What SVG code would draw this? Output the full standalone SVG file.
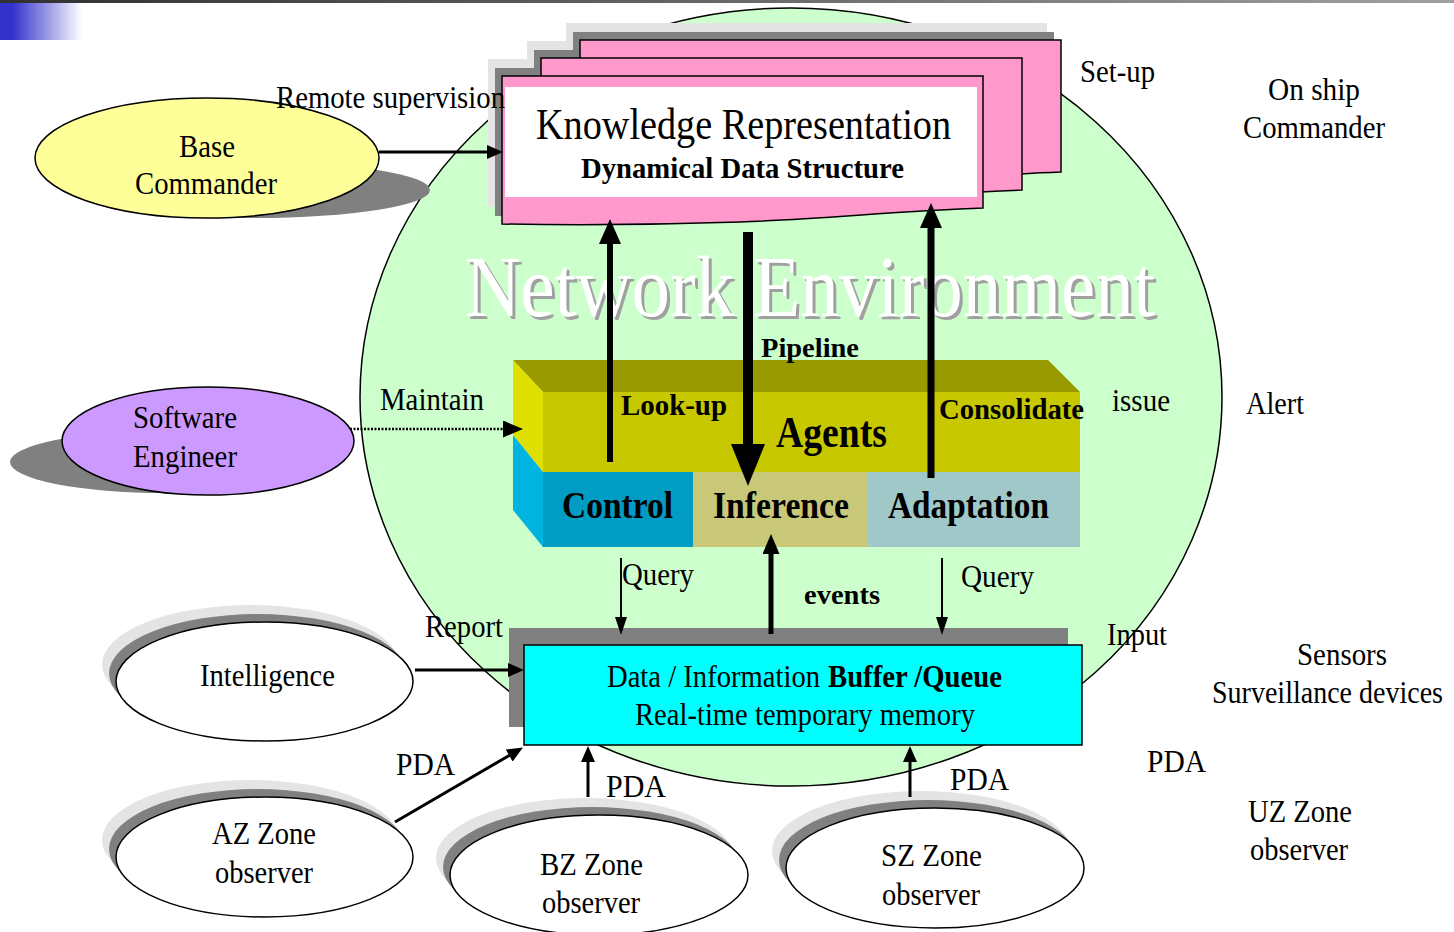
<svg xmlns="http://www.w3.org/2000/svg" width="1454" height="932" viewBox="0 0 1454 932">
<style>
.t{font-family:"Liberation Serif","Times New Roman",serif;font-size:32px;fill:#000}
.b{font-weight:bold}
.f28{font-size:28px}
.f30{font-size:30px}
.f37{font-size:38px}
.f42{font-size:44px}
.f84{font-size:86px}
.ell{stroke:#000;stroke-width:1.5}
.sl{fill:#e4e4e4}
.sd{fill:#808080}
.ln{stroke:#000;fill:none}
</style>
<defs>
<linearGradient id="topbar" x1="0" x2="1" y1="0" y2="0"><stop offset="0" stop-color="#303030"/><stop offset="1" stop-color="#a0a0a0"/></linearGradient>
<linearGradient id="blue" x1="0" x2="1" y1="0" y2="0"><stop offset="0" stop-color="#3333cc"/><stop offset="0.15" stop-color="#3333cc"/><stop offset="1" stop-color="#ffffff"/></linearGradient>
<path id="sheet" d="M502,76 H983 V208 C900,211 820,219 740,222 C650,225 560,225 502,224 Z"/>
<marker id="hS" markerUnits="userSpaceOnUse" viewBox="0 0 16 14" markerWidth="16" markerHeight="14" refX="1" refY="7" orient="auto"><path d="M0,0 L16,7 L0,14 Z" fill="#000"/></marker>
<marker id="hQ" markerUnits="userSpaceOnUse" viewBox="0 0 18 12" markerWidth="18" markerHeight="12" refX="1" refY="6" orient="auto"><path d="M0,0 L18,6 L0,12 Z" fill="#000"/></marker>
<marker id="hM" markerUnits="userSpaceOnUse" viewBox="0 0 20 17" markerWidth="20" markerHeight="17" refX="1" refY="8.5" orient="auto"><path d="M0,0 L20,8.5 L0,17 Z" fill="#000"/></marker>
<marker id="hL" markerUnits="userSpaceOnUse" viewBox="0 0 25 22" markerWidth="25" markerHeight="22" refX="1" refY="11" orient="auto"><path d="M0,0 L25,11 L0,22 Z" fill="#000"/></marker>
<marker id="hP" markerUnits="userSpaceOnUse" viewBox="0 0 42 34" markerWidth="42" markerHeight="34" refX="1" refY="17" orient="auto"><path d="M0,0 L42,17 L0,34 Z" fill="#000"/></marker>
</defs>

<!-- header -->
<rect x="0" y="0" width="1454" height="3" fill="url(#topbar)"/>
<rect x="0" y="3" width="82" height="37" fill="url(#blue)"/>

<!-- network environment circle -->
<g id="network">
<ellipse cx="791" cy="397" rx="431" ry="389" fill="#ccffcc" stroke="#000" stroke-width="1.5"/>
</g>

<!-- knowledge representation stack -->
<g id="knowledge">
<use href="#sheet" class="sl" transform="translate(64,-53)"/>
<use href="#sheet" class="sl" transform="translate(25,-35)"/>
<use href="#sheet" class="sl" transform="translate(-14,-17)"/>
<use href="#sheet" class="sd" transform="translate(71,-44)"/>
<use href="#sheet" class="sd" transform="translate(32,-26)"/>
<use href="#sheet" class="sd" transform="translate(-7,-8)"/>
<use href="#sheet" fill="#ff99cc" stroke="#000" stroke-width="1.5" transform="translate(78,-36)"/>
<use href="#sheet" fill="#ff99cc" stroke="#000" stroke-width="1.5" transform="translate(39,-18)"/>
<use href="#sheet" fill="#ff99cc" stroke="#000" stroke-width="1.5"/>
<rect x="505" y="87" width="472" height="110" fill="#fff"/>
<text class="t f42" x="536" y="139" textLength="415" lengthAdjust="spacingAndGlyphs">Knowledge Representation</text>
<text class="t b f30" x="581" y="178" textLength="323" lengthAdjust="spacingAndGlyphs">Dynamical Data Structure</text>
</g>

<!-- network environment title -->
<g id="title">
<text class="t f84" x="468" y="319" style="fill:#a0a0a0" textLength="690" lengthAdjust="spacingAndGlyphs">Network Environment</text>
<text class="t f84" x="465" y="316" style="fill:#fff" textLength="690" lengthAdjust="spacingAndGlyphs">Network Environment</text>
</g>

<!-- agents block -->
<g id="agents">
<polygon points="513,360 1048,360 1080,392 543,392" fill="#999900"/>
<polygon points="513,360 543,392 543,472 513,435" fill="#e0e000"/>
<polygon points="513,435 543,472 543,547 513,510" fill="#00b4e0"/>
<rect x="543" y="392" width="537" height="80" fill="#c8c800"/>
<rect x="543" y="472" width="150" height="75" fill="#009cc4"/>
<rect x="693" y="472" width="175" height="75" fill="#c8c878"/>
<rect x="868" y="472" width="212" height="75" fill="#a0c8c8"/>
<text class="t b f42" x="776" y="447" textLength="111" lengthAdjust="spacingAndGlyphs">Agents</text>
<text class="t b f37" x="562" y="518" textLength="111" lengthAdjust="spacingAndGlyphs">Control</text>
<text class="t b f37" x="713" y="518" textLength="136" lengthAdjust="spacingAndGlyphs">Inference</text>
<text class="t b f37" x="888" y="518" textLength="161" lengthAdjust="spacingAndGlyphs">Adaptation</text>
</g>

<!-- buffer -->
<g id="buffer">
<rect x="509" y="628" width="559" height="99" fill="#808080"/>
<rect x="524" y="645" width="558" height="100" fill="#00ffff" stroke="#000" stroke-width="1.5"/>
<text class="t" x="607" y="687" textLength="213" lengthAdjust="spacingAndGlyphs">Data / Information</text>
<text class="t b" x="828" y="687" textLength="174" lengthAdjust="spacingAndGlyphs">Buffer /Queue</text>
<text class="t" x="635" y="725" textLength="340" lengthAdjust="spacingAndGlyphs">Real-time temporary memory</text>
</g>

<!-- base commander -->
<g id="base-commander">
<ellipse cx="255" cy="190" rx="175" ry="28" fill="#808080"/>
<ellipse class="ell" cx="207" cy="158" rx="172" ry="60" fill="#ffff99"/>
<text class="t" x="179" y="157" textLength="56" lengthAdjust="spacingAndGlyphs">Base</text>
<text class="t" x="135" y="194" textLength="142" lengthAdjust="spacingAndGlyphs">Commander</text>
</g>

<!-- software engineer -->
<g id="software-engineer">
<ellipse cx="165" cy="462" rx="155" ry="31" fill="#808080"/>
<ellipse class="ell" cx="208" cy="441" rx="146" ry="54" fill="#cc99ff"/>
<text class="t" x="133" y="428" textLength="104" lengthAdjust="spacingAndGlyphs">Software</text>
<text class="t" x="133" y="467" textLength="104" lengthAdjust="spacingAndGlyphs">Engineer</text>
</g>

<!-- intelligence -->
<g id="intelligence">
<ellipse class="sl" cx="250.5" cy="664.5" rx="148.5" ry="59.5"/>
<ellipse class="sd" cx="257.5" cy="673.5" rx="148.5" ry="59.5"/>
<ellipse class="ell" cx="264.5" cy="681.5" rx="148.5" ry="59.5" fill="#fff"/>
<text class="t" x="200" y="686" textLength="135" lengthAdjust="spacingAndGlyphs">Intelligence</text>
</g>

<!-- AZ zone -->
<g id="az-zone">
<ellipse class="sl" cx="250.5" cy="840" rx="148.5" ry="60"/>
<ellipse class="sd" cx="257.5" cy="849" rx="148.5" ry="60"/>
<ellipse class="ell" cx="264.5" cy="857" rx="148.5" ry="60" fill="#fff"/>
<text class="t" x="212" y="844" textLength="104" lengthAdjust="spacingAndGlyphs">AZ Zone</text>
<text class="t" x="215" y="883" textLength="98" lengthAdjust="spacingAndGlyphs">observer</text>
</g>

<!-- BZ zone -->
<g id="bz-zone">
<ellipse class="sl" cx="585" cy="858" rx="149" ry="60"/>
<ellipse class="sd" cx="592" cy="867" rx="149" ry="60"/>
<ellipse class="ell" cx="599" cy="875" rx="149" ry="60" fill="#fff"/>
<text class="t" x="540" y="875" textLength="103" lengthAdjust="spacingAndGlyphs">BZ Zone</text>
<text class="t" x="542" y="913" textLength="98" lengthAdjust="spacingAndGlyphs">observer</text>
</g>

<!-- SZ zone -->
<g id="sz-zone">
<ellipse class="sl" cx="921" cy="851" rx="149" ry="60"/>
<ellipse class="sd" cx="928" cy="860" rx="149" ry="60"/>
<ellipse class="ell" cx="935" cy="868" rx="149" ry="60" fill="#fff"/>
<text class="t" x="881" y="866" textLength="101" lengthAdjust="spacingAndGlyphs">SZ Zone</text>
<text class="t" x="882" y="905" textLength="98" lengthAdjust="spacingAndGlyphs">observer</text>
</g>

<!-- free labels (right side) -->
<g id="on-ship-commander">
<text class="t" x="1268" y="100" textLength="92" lengthAdjust="spacingAndGlyphs">On ship</text>
<text class="t" x="1243" y="138" textLength="142" lengthAdjust="spacingAndGlyphs">Commander</text>
</g>
<g id="sensors">
<text class="t" x="1297" y="665" textLength="90" lengthAdjust="spacingAndGlyphs">Sensors</text>
<text class="t" x="1212" y="703" textLength="231" lengthAdjust="spacingAndGlyphs">Surveillance devices</text>
</g>
<g id="uz-zone">
<text class="t" x="1248" y="822" textLength="104" lengthAdjust="spacingAndGlyphs">UZ Zone</text>
<text class="t" x="1250" y="860" textLength="98" lengthAdjust="spacingAndGlyphs">observer</text>
</g>

<!-- connectors -->
<g id="connectors">
<line class="ln" x1="379" y1="152" x2="488" y2="152" stroke-width="3" marker-end="url(#hS)"/>
<line class="ln" x1="350" y1="429" x2="504" y2="429" stroke-width="2.5" stroke-dasharray="2 1.5" marker-end="url(#hM)"/>
<line class="ln" x1="610" y1="462" x2="610" y2="243" stroke-width="6" marker-end="url(#hL)"/>
<line class="ln" x1="748" y1="232" x2="748" y2="445" stroke-width="10" marker-end="url(#hP)"/>
<line class="ln" x1="931" y1="478" x2="931" y2="227" stroke-width="7" marker-end="url(#hL)"/>
<line class="ln" x1="771" y1="634" x2="771" y2="553" stroke-width="5" marker-end="url(#hM)"/>
<line class="ln" x1="621" y1="558" x2="621" y2="618" stroke-width="2" marker-end="url(#hQ)"/>
<line class="ln" x1="942" y1="558" x2="942" y2="618" stroke-width="2" marker-end="url(#hQ)"/>
<line class="ln" x1="415" y1="670" x2="509" y2="670" stroke-width="3" marker-end="url(#hS)"/>
<line class="ln" x1="395" y1="822" x2="510" y2="755" stroke-width="3" marker-end="url(#hS)"/>
<line class="ln" x1="588" y1="797" x2="588" y2="761" stroke-width="3" marker-end="url(#hS)"/>
<line class="ln" x1="910" y1="797" x2="910" y2="761" stroke-width="3" marker-end="url(#hS)"/>
</g>

<!-- connector labels -->
<g id="labels">
<text class="t" x="276" y="108" textLength="229" lengthAdjust="spacingAndGlyphs">Remote supervision</text>
<text class="t" x="1080" y="82" textLength="75" lengthAdjust="spacingAndGlyphs">Set-up</text>
<text class="t b f28" x="761" y="357" textLength="98" lengthAdjust="spacingAndGlyphs">Pipeline</text>
<text class="t b f30" x="621" y="415" textLength="106" lengthAdjust="spacingAndGlyphs">Look-up</text>
<text class="t b f30" x="939" y="419" textLength="145" lengthAdjust="spacingAndGlyphs">Consolidate</text>
<text class="t" x="380" y="410" textLength="104" lengthAdjust="spacingAndGlyphs">Maintain</text>
<text class="t" x="1112" y="411" textLength="58" lengthAdjust="spacingAndGlyphs">issue</text>
<text class="t" x="1246" y="414" textLength="58" lengthAdjust="spacingAndGlyphs">Alert</text>
<text class="t" x="622" y="585" textLength="72" lengthAdjust="spacingAndGlyphs">Query</text>
<text class="t" x="961" y="587" textLength="73" lengthAdjust="spacingAndGlyphs">Query</text>
<text class="t b f28" x="804" y="604" textLength="76" lengthAdjust="spacingAndGlyphs">events</text>
<text class="t" x="425" y="637" textLength="78" lengthAdjust="spacingAndGlyphs">Report</text>
<text class="t" x="1107" y="645" textLength="60" lengthAdjust="spacingAndGlyphs">Input</text>
<text class="t" x="396" y="775" textLength="59" lengthAdjust="spacingAndGlyphs">PDA</text>
<text class="t" x="606" y="797" textLength="60" lengthAdjust="spacingAndGlyphs">PDA</text>
<text class="t" x="950" y="790" textLength="59" lengthAdjust="spacingAndGlyphs">PDA</text>
<text class="t" x="1147" y="772" textLength="59" lengthAdjust="spacingAndGlyphs">PDA</text>
</g>
</svg>
